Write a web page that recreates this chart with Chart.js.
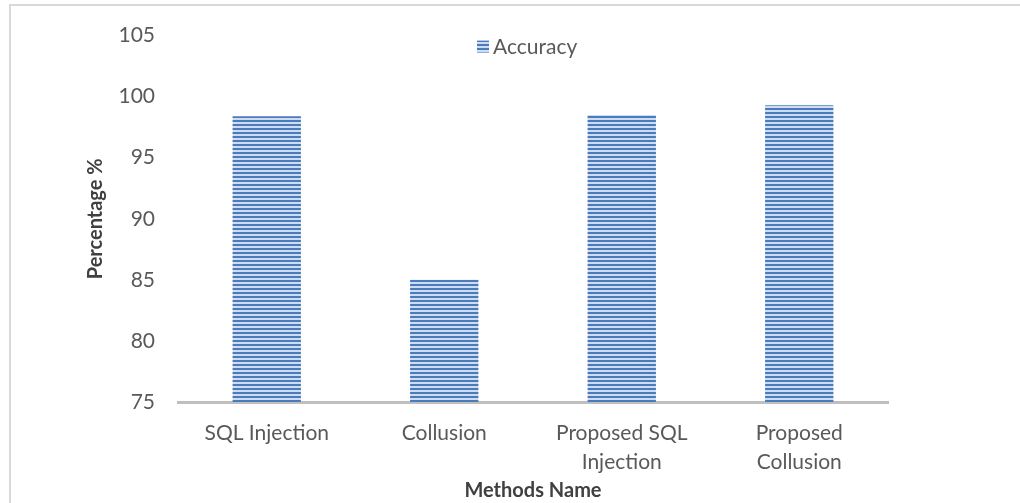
<!DOCTYPE html>
<html>
<head>
<meta charset="utf-8">
<script src="https://cdn.jsdelivr.net/npm/chart.js@4/dist/chart.umd.min.js"></script>
<style>
  html, body { margin: 0; padding: 0; background: #ffffff; }
  #wrap { position: relative; width: 1020px; height: 503px; }
</style>
</head>
<body>
<div id="wrap"><canvas id="c" width="1020" height="503"></canvas></div>
<script>
// Methods compared and their accuracy (%)
const categories = [['SQL Injection'], ['Collusion'], ['Proposed SQL', 'Injection'], ['Proposed', 'Collusion']];
const accuracy = [98.4, 85.0, 98.5, 99.3];
const yTicks = [75, 80, 85, 90, 95, 100, 105];

const seriesName = 'Accuracy';
const xTitle = 'Methods Name';
const yTitle = 'Percentage %';

const FONT = 'Lato';
const TEXT = '#595959';

// Narrow horizontal stripe fill
function stripePattern(ctx) {
  const p = document.createElement('canvas');
  p.width = 4; p.height = 4;
  const g = p.getContext('2d');
  g.fillStyle = '#cfdcef';
  g.fillRect(0, 0, 4, 4);
  g.fillStyle = '#4a7bbd';
  g.fillRect(0, 0, 4, 2);
  return ctx.createPattern(p, 'repeat');
}

const canvas = document.getElementById('c');
const ctx = canvas.getContext('2d');
const fill = stripePattern(ctx);

// Light frame along the left and top edges
const framePlugin = {
  id: 'frame',
  beforeDraw(chart) {
    const c = chart.ctx;
    c.save();
    c.fillStyle = '#ffffff';
    c.fillRect(0, 0, chart.width, chart.height);
    c.strokeStyle = '#d9d9d9';
    c.lineWidth = 2;
    c.beginPath();
    c.moveTo(10, chart.height);
    c.lineTo(10, 5);
    c.lineTo(chart.width, 5);
    c.stroke();
    c.restore();
  }
};

// Series key drawn over the top of the plot area
const keyPlugin = {
  id: 'key',
  afterDraw(chart) {
    const c = chart.ctx;
    const area = chart.chartArea;
    const ds = chart.data.datasets[0];
    c.save();
    c.font = '21px ' + FONT;
    const tw = c.measureText(ds.label).width;
    const box = 12, gap = 4;
    const total = box + gap + tw;
    const x0 = Math.round((area.left + area.right) / 2 - total / 2 - 6);
    const cy = area.top + 11;
    c.fillStyle = ds.backgroundColor;
    c.fillRect(x0, cy - box / 2, box, box);
    c.fillStyle = TEXT;
    c.textBaseline = 'middle';
    c.textAlign = 'left';
    c.fillText(ds.label, x0 + box + gap, cy + 1);
    c.restore();
  }
};

new Chart(ctx, {
  type: 'bar',
  data: {
    labels: categories,
    datasets: [{
      label: seriesName,
      data: accuracy,
      backgroundColor: fill,
      borderWidth: 0,
      barPercentage: 0.77,
      categoryPercentage: 0.5
    }]
  },
  options: {
    responsive: false,
    animation: false,
    layout: { padding: { top: 32, right: 132, left: 84, bottom: 0 } },
    plugins: {
      tooltip: { enabled: false },
      legend: { display: false }
    },
    scales: {
      x: {
        grid: { display: false, drawTicks: false },
        border: { display: true, color: '#bfbfbf', width: 3 },
        ticks: {
          color: TEXT,
          padding: 17,
          maxRotation: 0,
          autoSkip: false,
          font: { family: FONT, size: 21, lineHeight: 1.38 }
        },
        title: {
          display: true,
          text: xTitle,
          color: '#404040',
          padding: { top: 0, bottom: 0 },
          font: { family: FONT, size: 20, weight: 'bold' }
        },
        afterFit(scale) { scale.height = 101; }
      },
      y: {
        min: 75,
        max: 105,
        afterBuildTicks(scale) { scale.ticks = yTicks.map(v => ({ value: v })); },
        grid: { display: false, drawTicks: false },
        border: { display: false },
        ticks: {
          color: TEXT,
          padding: 23,
          font: { family: FONT, size: 21 }
        },
        title: {
          display: true,
          text: yTitle,
          color: '#404040',
          padding: { top: 0, bottom: 0 },
          font: { family: FONT, size: 20, weight: 'bold' }
        },
        afterFit(scale) { scale.width = 94; }
      }
    }
  },
  plugins: [framePlugin, keyPlugin]
});
</script>
</body>
</html>
